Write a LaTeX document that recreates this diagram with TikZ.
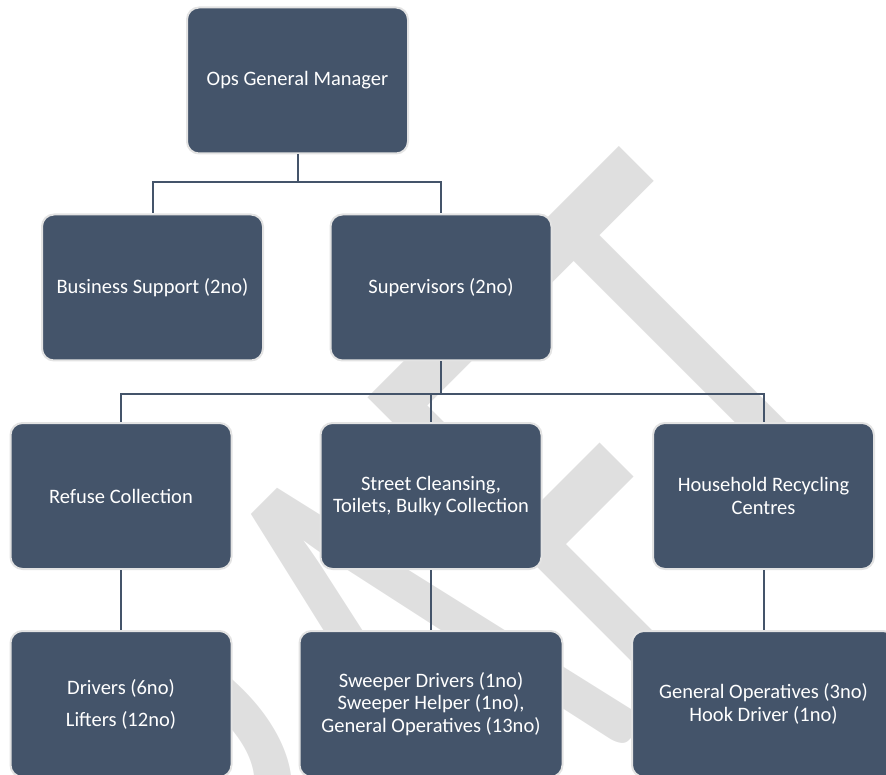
\documentclass[tikz,border=0pt]{standalone}
\usepackage{fontspec}
\setmainfont{Carlito}
\usepackage{tikz}
\usetikzlibrary{positioning}
\definecolor{slateblue}{HTML}{44546A}
\definecolor{boxedge}{HTML}{E3E3E3}
\definecolor{draftgray}{HTML}{DFDFDF}

\begin{document}
\begin{tikzpicture}[x=1pt,y=-1pt,
    orgbox/.style={rectangle,rounded corners=12pt,draw=boxedge,line width=2pt,fill=slateblue,text=white,minimum width=221pt,minimum height=146pt,inner sep=0pt,align=center,font=\fontsize{20.5}{22.5}\selectfont},
    widebox/.style={orgbox,minimum width=263pt},
    link/.style={draw=slateblue,line width=2pt},
    node distance=60pt
]
    \useasboundingbox (0,0) rectangle (886,775);
    \begin{scope}
        \clip (0,0) rectangle (886,775);
        \node[text=draftgray,font=\fontsize{666}{666}\selectfont,rotate=45,xscale=0.616,anchor=base east,inner sep=0pt] (draft) at (925,445) {DRAFT};
    \end{scope}

    \node[orgbox] (opsgm) at (297.5,80.5) {Ops General Manager};
    \node[orgbox] (bizsup) at (152.5,287.5) {Business Support (2no)};
    \node[orgbox] (supers) at (441,287.5) {Supervisors (2no)};
    \node[orgbox] (refuse) at (121,496) {Refuse Collection};
    \node[orgbox] (street) at (431,496) {Street Cleansing,\\Toilets, Bulky Collection};
    \node[orgbox] (hrc) at (763.5,496) {Household Recycling\\Centres};
    \node[orgbox,below=of refuse] (drivers) {Drivers (6no)\\[9.5pt]Lifters (12no)};
    \node[widebox,below=of street] (sweepers) {Sweeper Drivers (1no)\\Sweeper Helper (1no),\\General Operatives (13no)};
    \node[widebox,below=of hrc] (genops) {General Operatives (3no)\\Hook Driver (1no)};

    \draw[link] (opsgm.south) -- ++(0,28) -| (bizsup.north);
    \draw[link] (opsgm.south) -- ++(0,28) -| (supers.north);
    \draw[link] (supers.south) -- ++(0,32) -| (refuse.north);
    \draw[link] (supers.south) -- ++(0,32) -| (street.north);
    \draw[link] (supers.south) -- ++(0,32) -| (hrc.north);
    \draw[link] (refuse.south) -- (drivers.north);
    \draw[link] (street.south) -- (sweepers.north);
    \draw[link] (hrc.south) -- (genops.north);
\end{tikzpicture}
\end{document}
